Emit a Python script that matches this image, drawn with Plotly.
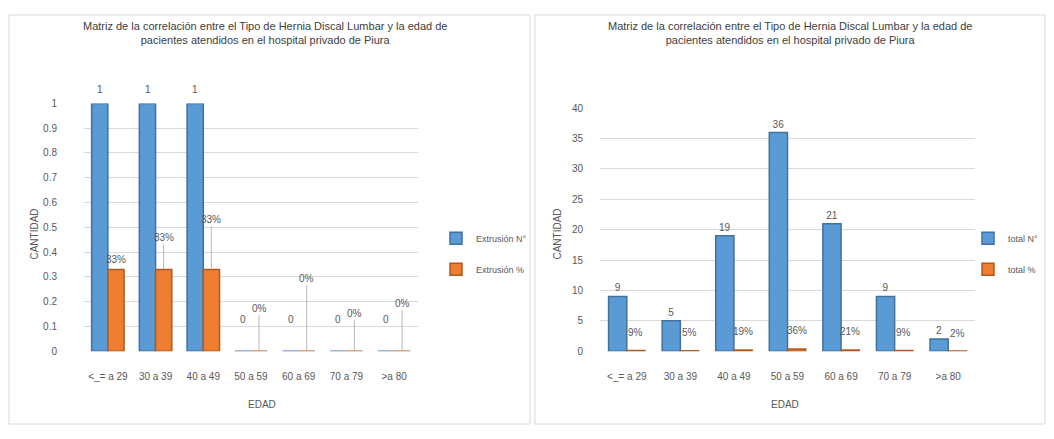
import plotly.graph_objects as go

# Data
edad = ["<_= a 29", "30 a 39", "40 a 49", "50 a 59", "60 a 69", "70 a 79", ">a 80"]
extrusion_n = [1, 1, 1, 0, 0, 0, 0]
extrusion_pct = [0.33, 0.33, 0.33, 0, 0, 0, 0]
total_n = [9, 5, 19, 36, 21, 9, 2]
total_pct = [0.09, 0.05, 0.19, 0.36, 0.21, 0.09, 0.02]

titulo = ("Matriz de la correlación entre el Tipo de Hernia Discal Lumbar y la edad de<br>"
          "pacientes atendidos en el hospital privado de Piura")

BLUE = "#5B9BD5"
BLUE_D = "#41719C"
ORANGE = "#ED7D31"
ORANGE_D = "#AE5A21"
GRAY = "#595959"
FONT = "Liberation Sans Narrow, Liberation Sans, Arial"

# the page body has an 8px margin, so the figure is made to fit inside it
OFF = 8
W, H = 1054 - 2 * OFF, 439 - 2 * OFF

def px_x(v):
    return (v - OFF) / W

def px_y(v):
    return 1 - (v - OFF) / H

fig = go.Figure()

# left chart
fig.add_trace(go.Bar(
    x=edad, y=extrusion_n, name="Extrusión N°", marker_color=BLUE,
    marker_line=dict(color=BLUE_D, width=1.5), legendgroup="a",
    xaxis="x", yaxis="y", legend="legend",
))
fig.add_trace(go.Bar(
    x=edad, y=extrusion_pct, name="Extrusión %", marker_color=ORANGE,
    marker_line=dict(color=ORANGE_D, width=1.5), legendgroup="b",
    xaxis="x", yaxis="y", legend="legend",
))

# right chart
fig.add_trace(go.Bar(
    x=edad, y=total_n, name="total N°", marker_color=BLUE,
    marker_line=dict(color=BLUE_D, width=1.5), legendgroup="c",
    text=[str(v) for v in total_n], textposition="outside",
    textfont=dict(color=GRAY, size=10), cliponaxis=False,
    xaxis="x2", yaxis="y2", legend="legend2",
))
fig.add_trace(go.Bar(
    x=edad, y=total_pct, name="total %", marker_color=ORANGE,
    marker_line=dict(color=ORANGE_D, width=1.5), legendgroup="d",
    xaxis="x2", yaxis="y2", legend="legend2",
))

# value labels on the left chart (Excel 3D places them a little above the bars)
for cat, v in zip(edad, extrusion_n):
    fig.add_annotation(
        x=cat, y=v, xref="x", yref="y", xshift=-8, yshift=14 if v else 32,
        text=str(v), showarrow=False, font=dict(color=GRAY, size=10),
    )

# % labels with leader lines on the left chart
offsets = [-12, -32, -50, -43, -73, -38, -48]
for cat, v, ay in zip(edad, extrusion_pct, offsets):
    fig.add_annotation(
        x=cat, y=v, xref="x", yref="y", xshift=8,
        text=f"{round(v * 100)}%", showarrow=abs(ay) > 20, arrowhead=0,
        arrowcolor="#A6A6A6", arrowwidth=0.8, ax=0, ay=ay,
        yshift=0 if abs(ay) > 20 else 10,
        font=dict(color=GRAY, size=10),
    )

# % labels on the right chart (floating just above the small bars)
for cat, v in zip(edad, total_pct):
    fig.add_annotation(
        x=cat, y=v, xref="x2", yref="y2", xshift=9, yshift=18,
        text=f"{round(v * 100)}%", showarrow=False,
        font=dict(color=GRAY, size=10),
    )

axis_common = dict(showline=False, ticks="", tickfont=dict(color=GRAY, size=10, family=FONT))
fig.update_layout(
    width=W, height=H,
    margin=dict(l=0, r=0, t=0, b=0),
    paper_bgcolor="white", plot_bgcolor="white",
    font=dict(family=FONT, color=GRAY),
    barmode="group", bargap=0.32, bargroupgap=0,
    xaxis=dict(domain=[px_x(84), px_x(418)], anchor="y", showgrid=False,
               ticklabelstandoff=18, **axis_common),
    yaxis=dict(domain=[px_y(355), px_y(100)], anchor="x", range=[0, 1], dtick=0.1,
               gridcolor="#D9D9D9", zeroline=False, ticklabelstandoff=26, **axis_common),
    xaxis2=dict(domain=[px_x(600), px_x(975)], anchor="y2", showgrid=False,
                ticklabelstandoff=18, **axis_common),
    yaxis2=dict(domain=[px_y(355), px_y(105)], anchor="x2", range=[0, 40], dtick=5,
                gridcolor="#D9D9D9", zeroline=False, ticklabelstandoff=16, **axis_common),
    legend=dict(x=px_x(436), y=px_y(224), xanchor="left", yanchor="top",
                font=dict(size=9, color=GRAY), itemwidth=30, traceorder="grouped",
                tracegroupgap=12, bgcolor="rgba(0,0,0,0)"),
    legend2=dict(x=px_x(968), y=px_y(224), xanchor="left", yanchor="top",
                 font=dict(size=9, color=GRAY), itemwidth=30, traceorder="grouped",
                 tracegroupgap=12, bgcolor="rgba(0,0,0,0)"),
)

# panel borders
for x0, x1 in [(9, 530), (535, 1045)]:
    fig.add_shape(type="rect", xref="paper", yref="paper",
                  x0=px_x(x0), x1=px_x(x1), y0=px_y(430), y1=px_y(9),
                  line=dict(color="#D9D9D9", width=1))

# titles and axis titles
for cx, cy_axis in [(265, 35), (790, 558)]:
    fig.add_annotation(x=px_x(cx), y=px_y(28), xref="paper", yref="paper",
                       xanchor="center", yanchor="middle",
                       text=titulo, showarrow=False,
                       font=dict(size=11, color="#404040"))
    fig.add_annotation(x=px_x(cy_axis), y=px_y(235), xref="paper", yref="paper",
                       xanchor="center", yanchor="middle",
                       text="CANTIDAD", showarrow=False, textangle=-90,
                       font=dict(size=10, color=GRAY))
for cx in [262, 785]:
    fig.add_annotation(x=px_x(cx), y=px_y(410), xref="paper", yref="paper",
                       xanchor="center", yanchor="middle",
                       text="EDAD", showarrow=False, font=dict(size=10, color=GRAY))

fig.write_html("out.html")
